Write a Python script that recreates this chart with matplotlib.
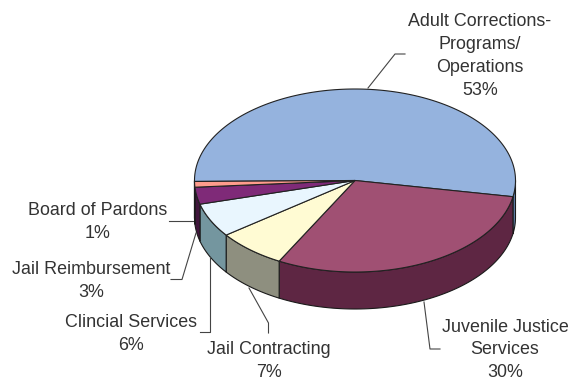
import numpy as np
import matplotlib
matplotlib.use("Agg")
import matplotlib.pyplot as plt

names = ["Adult Corrections-\nPrograms/\nOperations", "Juvenile Justice\nServices", "Jail Contracting",
         "Clincial Services", "Jail Reimbursement", "Board of Pardons"]
shares = [53, 30, 7, 6, 3, 1]
top_colors = ["#95B3DE", "#A05073", "#FFFBD3", "#E9F6FE", "#7F2A78", "#FF9C8C"]
side_colors = ["#5F7FA8", "#5E2643", "#8E8F7F", "#74969F", "#40153C", "#80504A"]
label_pos = [(480, 56), (505, 350), (269, 361), (131, 334), (91, 281), (98, 222)]
leaders = [
    [(368, 88), (395, 54), (405, 54)],
    [(424, 302), (430, 349), (440, 349)],
    [(249, 288), (268.5, 323), (268.5, 333)],
    [(210, 257), (210, 332), (200, 332)],
    [(196, 233), (182, 279.5), (171, 279.5)],
    [(193, 221), (169, 221)],
]

cx, cy = 355, 180.5
rx, ry = 160.5, 91.5
depth = 37
start_angle = 180.6

plt.rcParams["font.family"] = ["Liberation Sans", "DejaVu Sans"]

fig = plt.figure(figsize=(5.7, 3.81), dpi=100)
ax = fig.add_axes([0, 0, 1, 1])
ax.set_xlim(0, 570)
ax.set_ylim(381, 0)
ax.axis("off")


def rim(a, b, drop=0):
    t = np.radians(np.linspace(a, b, max(int(abs(b - a) * 2), 2)))
    return cx + rx * np.cos(t), cy - ry * np.sin(t) + drop


edges = start_angle - np.cumsum([0] + shares) * 3.6

# side wall only exists on the front half of the disc
for i in range(len(shares)):
    hi, lo = edges[i], edges[i + 1]
    for a, b in [(min(hi, 360), max(lo, 180)), (min(hi, 0), max(lo, -180))]:
        if a <= b:
            continue
        x1, y1 = rim(a, b)
        x2, y2 = rim(b, a, depth)
        ax.fill(np.r_[x1, x2], np.r_[y1, y2], facecolor=side_colors[i],
                edgecolor="#1a1a1a", linewidth=0.8, joinstyle="round")

for i in range(len(shares)):
    x, y = rim(edges[i], edges[i + 1])
    ax.fill(np.r_[cx, x], np.r_[cy, y], facecolor=top_colors[i],
            edgecolor="#222222", linewidth=0.8, joinstyle="round")

for pts in leaders:
    ax.plot(*zip(*pts), color="#444444", linewidth=0.8)

for name, share, (lx, ly) in zip(names, shares, label_pos):
    ax.text(lx, ly, "%s\n%d%%" % (name, share), ha="center", va="center",
            fontsize=12.9, color="#333333", linespacing=1.45)

fig.savefig("out.png", dpi=100)
